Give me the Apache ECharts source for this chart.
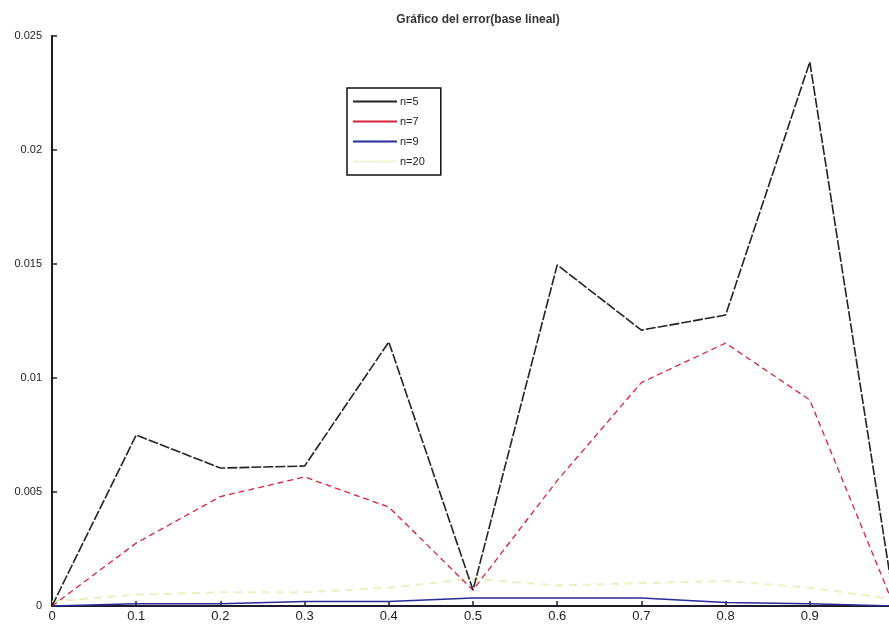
<!DOCTYPE html>
<html>
<head>
<meta charset="utf-8">
<script src="https://cdn.jsdelivr.net/npm/echarts@6/dist/echarts.min.js"></script>
<style>
  html, body { margin: 0; padding: 0; background: #fff; overflow: hidden; width: 889px; height: 628px; }
  /* the plot runs a few pixels past the right edge of the window */
  #chart { width: 900px; height: 628px; }
</style>
</head>
<body>
<div id="chart"></div>
<script>
// Sample points along x
const xs = [0, 0.1, 0.2, 0.3, 0.4, 0.5, 0.6, 0.7, 0.8, 0.9, 1.0];

// Error for each number of nodes
const errN5  = [0, 0.0075, 0.00605, 0.00614, 0.01158, 0.0007, 0.01496, 0.0121, 0.01276, 0.02386, 0.0002];
const errN7  = [0, 0.00276, 0.0048, 0.00566, 0.00434, 0.0007, 0.0055, 0.0098, 0.01153, 0.00904, 0];
const errN9  = [0, 0.0001, 0.0001, 0.0002, 0.0002, 0.00035, 0.00035, 0.00035, 0.00015, 0.0001, 0];
const errN20 = [0.0002, 0.0005, 0.0006, 0.0006, 0.0008, 0.0012, 0.0009, 0.001, 0.0011, 0.0008, 0.0003];

const seriesNames = ['n=5', 'n=7', 'n=9', 'n=20'];
const yTicks = [0, 0.005, 0.01, 0.015, 0.02, 0.025];
const xTicks = [0, 0.1, 0.2, 0.3, 0.4, 0.5, 0.6, 0.7, 0.8, 0.9];

const pairs = (ys) => xs.map((x, i) => [x, ys[i]]);

const chart = echarts.init(document.getElementById('chart'));
const font = '"Liberation Sans", Arial, sans-serif';

chart.setOption({
  animation: false,
  backgroundColor: '#fff',
  title: {
    text: 'Gráfico del error(base lineal)',
    left: 473,
    textAlign: 'center',
    top: 9,
    textStyle: { fontSize: 12, fontWeight: 'bold', color: '#333', fontFamily: font }
  },
  legend: {
    data: seriesNames,
    orient: 'vertical',
    left: 347,
    top: 88,
    padding: [8, 16, 8, 6],
    itemGap: 9,
    itemWidth: 44,
    itemHeight: 12,
    backgroundColor: '#fff',
    borderColor: '#111',
    borderWidth: 1.5,
    borderRadius: 0,
    icon: 'path://M0,5 L44,5 L44,7 L0,7 Z',
    textStyle: { fontSize: 11, color: '#222', fontFamily: font, padding: [0, 0, 0, -2] }
  },
  grid: { left: 52, right: 6, top: 36, bottom: 22, containLabel: false, outerBoundsMode: 'none' },
  xAxis: {
    type: 'value',
    min: 0,
    max: 1,
    interval: 0.1,
    axisLine: { show: true, onZero: false, lineStyle: { color: '#1c1c2c', width: 2 } },
    axisTick: { show: true, inside: true, length: 5, lineStyle: { color: '#1c1c2c', width: 1.5 } },
    splitLine: { show: false },
    axisLabel: {
      fontSize: 13, color: '#222', fontFamily: font, margin: 4,
      formatter: (v) => {
        const hit = xTicks.find((t) => Math.abs(t - v) < 1e-9);
        return hit === undefined ? '' : String(Number(hit.toFixed(1)));
      }
    }
  },
  yAxis: {
    type: 'value',
    min: 0,
    max: 0.025,
    interval: 0.005,
    axisLine: { show: true, onZero: false, lineStyle: { color: '#1c1c2c', width: 2 } },
    axisTick: { show: true, inside: true, length: 5, lineStyle: { color: '#1c1c2c', width: 1.5 } },
    splitLine: { show: false },
    axisLabel: {
      fontSize: 11, color: '#222', fontFamily: font, margin: 10,
      formatter: (v) => {
        const hit = yTicks.find((t) => Math.abs(t - v) < 1e-9);
        return hit === undefined ? '' : String(Number(hit.toFixed(3)));
      }
    }
  },
  series: [
    {
      name: 'n=5', type: 'line', data: pairs(errN5), symbol: 'none', z: 4,
      itemStyle: { color: '#222' },
      lineStyle: { color: '#222', width: 1.6, type: [10, 2] }
    },
    {
      name: 'n=7', type: 'line', data: pairs(errN7), symbol: 'none', z: 3,
      itemStyle: { color: '#d8203c' },
      lineStyle: { color: '#d8203c', width: 1.3, type: [6, 4] }
    },
    {
      name: 'n=9', type: 'line', data: pairs(errN9), symbol: 'none', z: 2,
      itemStyle: { color: '#2a2a9a' },
      lineStyle: { color: '#2a2a9a', width: 1.5 }
    },
    {
      name: 'n=20', type: 'line', data: pairs(errN20), symbol: 'none', z: 1,
      itemStyle: { color: '#f4f4d8' },
      lineStyle: { color: '#eeeec0', width: 2, type: [8, 6] }
    }
  ]
});
</script>
</body>
</html>
